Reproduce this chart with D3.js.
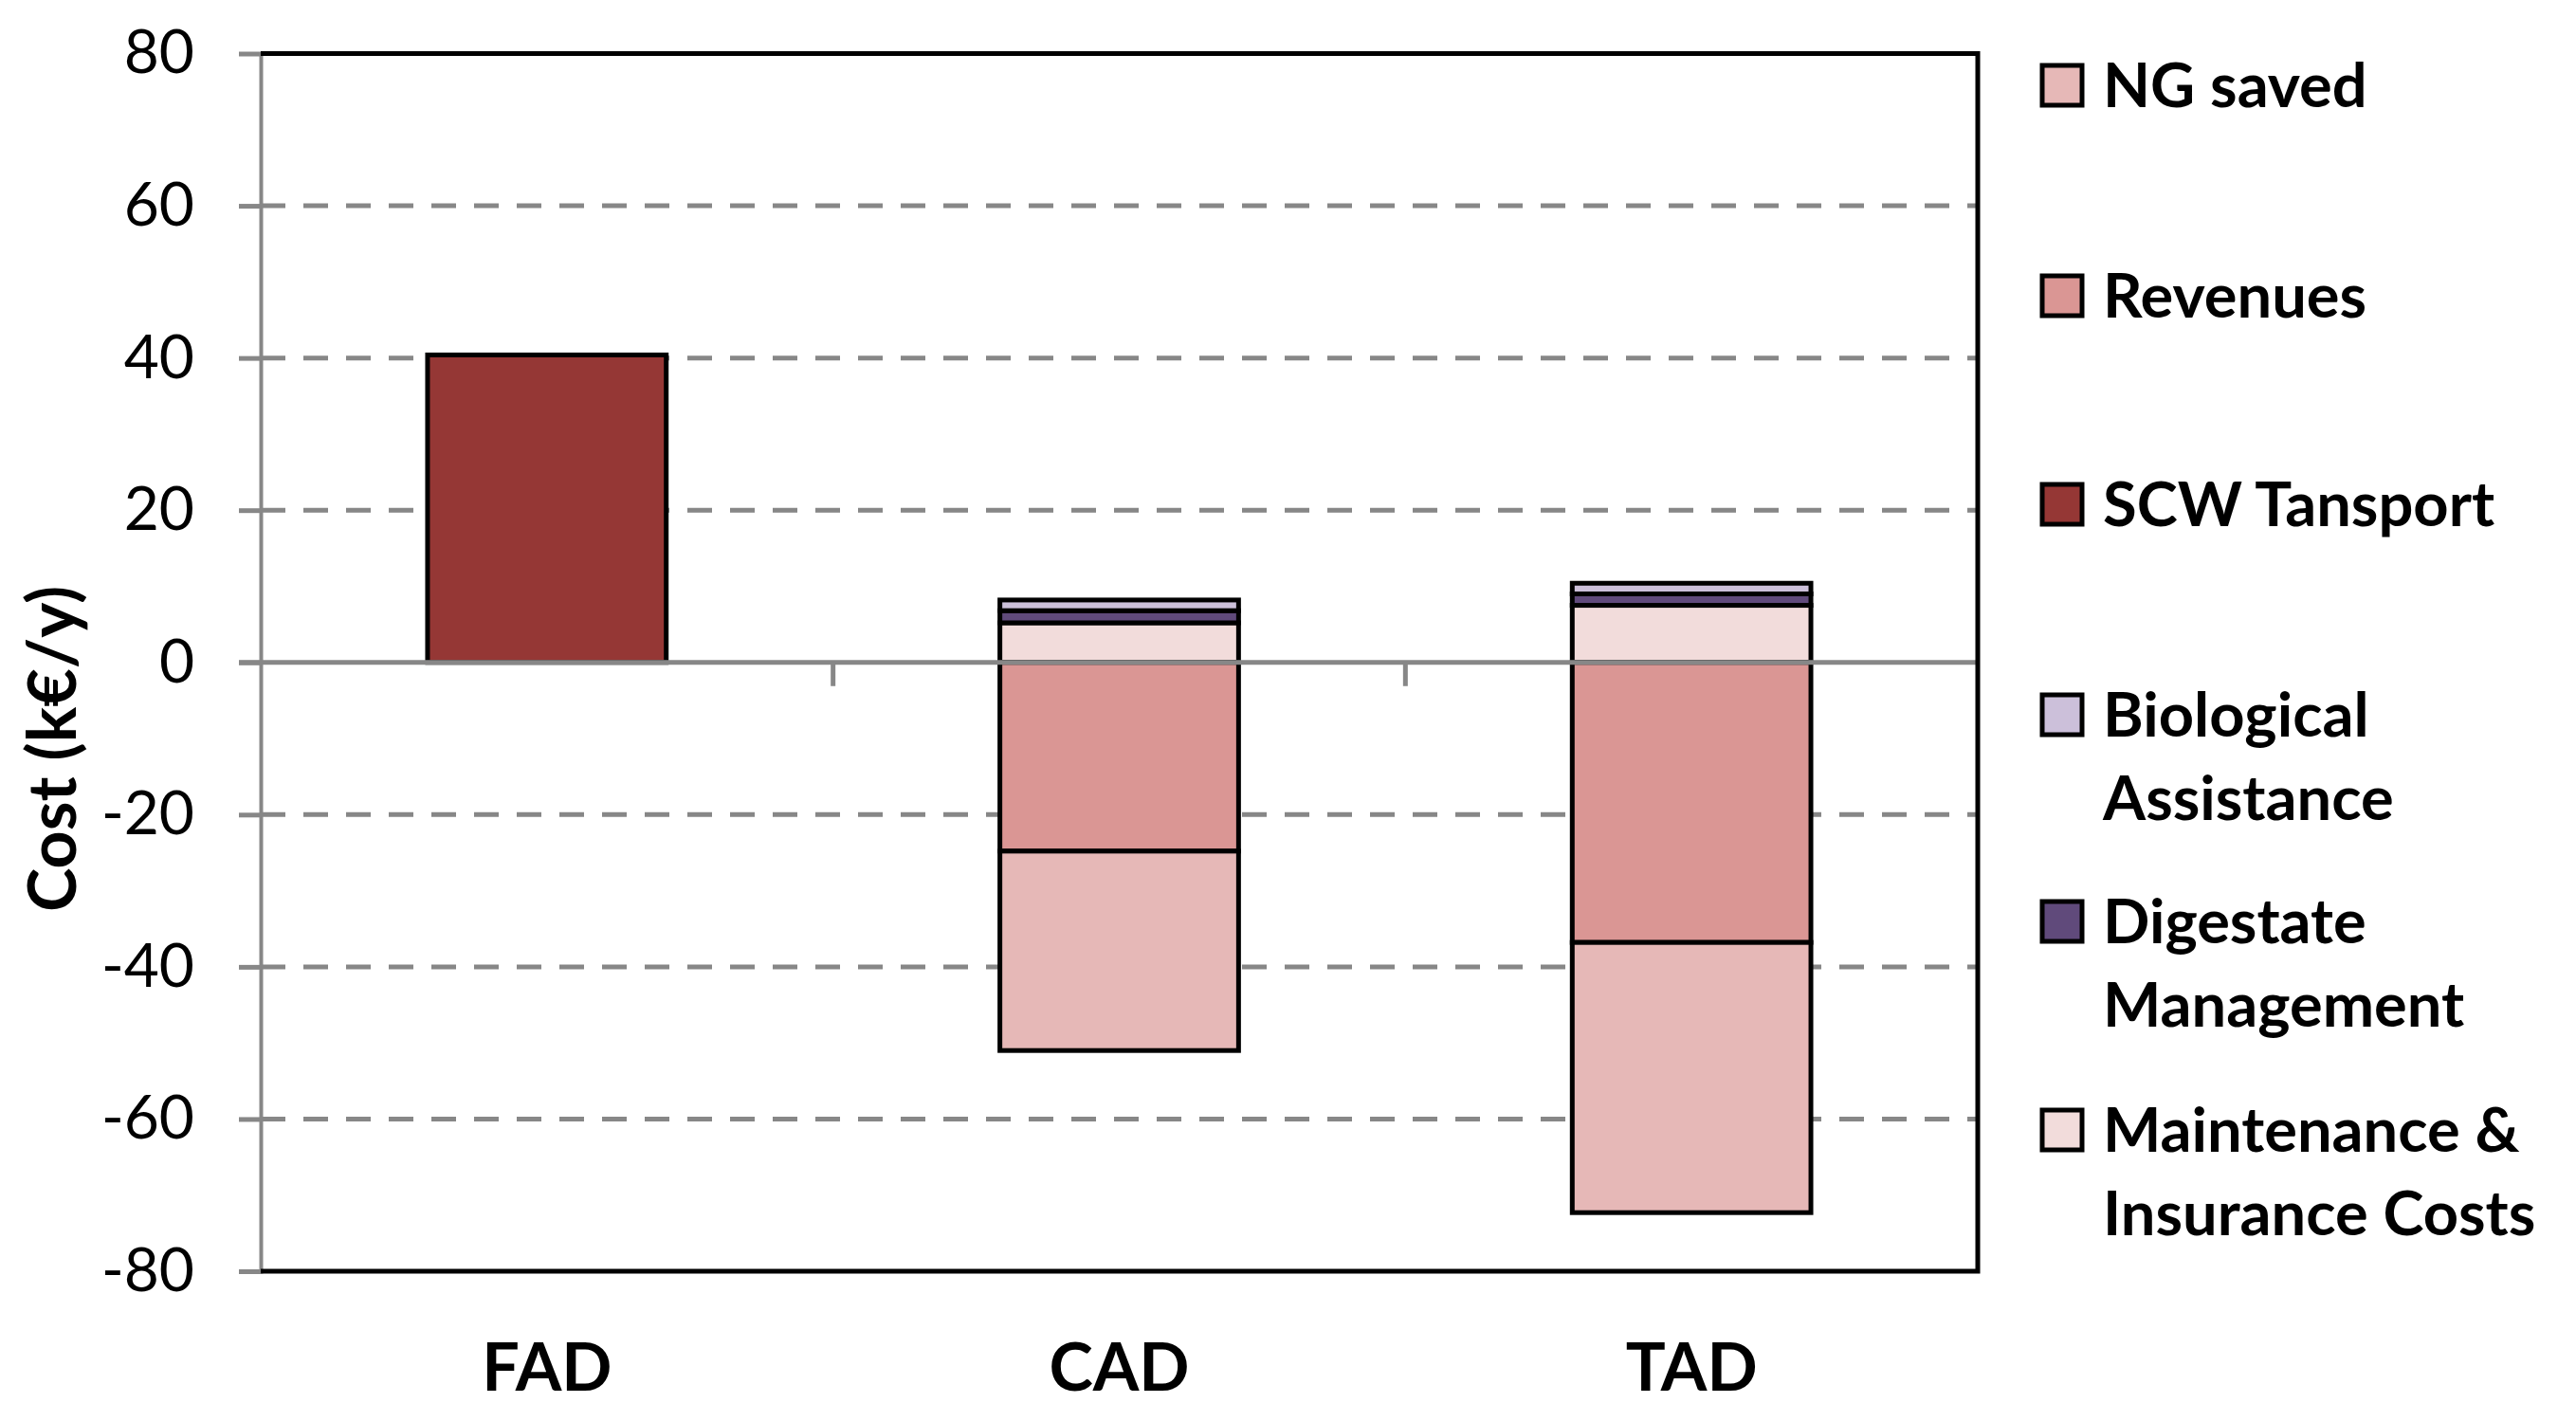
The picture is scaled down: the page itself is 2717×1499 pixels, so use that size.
<!DOCTYPE html>
<html>
<head>
<meta charset="utf-8">
<script src="https://cdn.jsdelivr.net/npm/d3@7"></script>
<style>
  html, body { margin: 0; padding: 0; background: #fff; }
  svg { display: block; }
  text { font-family: Lato, "Open Sans", sans-serif; fill: #000; }
</style>
</head>
<body>
<svg id="chart" width="2717" height="1499"></svg>
<script>
// ---- data ----
const categories = ["FAD", "CAD", "TAD"];
const seriesNames = ["Maintenance & Insurance Costs", "Digestate Management", "Biological Assistance", "SCW Tansport", "Revenues", "NG saved"];
const maintenance = [0, 5.2, 7.5];
const digestate = [0, 1.6, 1.5];
const biological = [0, 1.4, 1.4];
const scwTransport = [40.4, 0, 0];
const revenues = [0, -24.8, -36.8];
const ngSaved = [0, -26.2, -35.5];
const yTicks = [80, 60, 40, 20, 0, -20, -40, -60, -80];
const legendOrder = ["NG saved", "Revenues", "SCW Tansport", "Biological Assistance", "Digestate Management", "Maintenance & Insurance Costs"];
const legendLines = {
  "NG saved": ["NG saved"],
  "Revenues": ["Revenues"],
  "SCW Tansport": ["SCW Tansport"],
  "Biological Assistance": ["Biological", "Assistance"],
  "Digestate Management": ["Digestate", "Management"],
  "Maintenance & Insurance Costs": ["Maintenance &", "Insurance Costs"]
};
const colors = {
  "Maintenance & Insurance Costs": "#F2DCDB",
  "Digestate Management": "#604A7B",
  "Biological Assistance": "#CCC0DA",
  "SCW Tansport": "#953735",
  "Revenues": "#DA9694",
  "NG saved": "#E6B8B7"
};
const seriesValues = [maintenance, digestate, biological, scwTransport, revenues, ngSaved];

const table = categories.map((c, i) => {
  const row = { cat: c };
  seriesNames.forEach((s, j) => row[s] = seriesValues[j][i]);
  return row;
});

// ---- layout ----
const svg = d3.select("#chart");
const plotLeft = 275, plotRight = 2086, plotTop = 56.5, plotBottom = 1341;

const x = d3.scaleBand().domain(categories).range([plotLeft, plotRight]).padding(0);
const y = d3.scaleLinear().domain([-80, 80]).range([plotBottom, plotTop]);
const barW = x.bandwidth() * 0.417;

const gridColor = "#878787";

// gridlines (dashed)
svg.append("g").selectAll("line")
  .data(yTicks.filter(t => t !== 0 && t !== 80 && t !== -80))
  .join("line")
  .attr("x1", plotLeft).attr("x2", plotRight)
  .attr("y1", d => y(d)).attr("y2", d => y(d))
  .attr("stroke", gridColor).attr("stroke-width", 5)
  .attr("stroke-dasharray", "26 19");

// y axis
const yAxis = d3.axisLeft(y).tickValues(yTicks).tickSize(23).tickPadding(47).tickFormat(d => String(d));
const gy = svg.append("g").attr("transform", `translate(${plotLeft},0)`).call(yAxis);
gy.select(".domain").attr("stroke", gridColor).attr("stroke-width", 4);
gy.selectAll(".tick line").attr("stroke", gridColor).attr("stroke-width", 5);
gy.selectAll(".tick text")
  .style("font-family", "Lato, sans-serif")
  .style("font-size", "64px")
  .attr("fill", "#000");

// stacked bars
const stack = d3.stack().keys(seriesNames).offset(d3.stackOffsetDiverging);
const stacked = stack(table);

const barsG = svg.append("g");
stacked.forEach(layer => {
  barsG.append("g")
    .selectAll("rect")
    .data(layer.filter(d => d[1] - d[0] !== 0))
    .join("rect")
    .attr("x", d => x(d.data.cat) + (x.bandwidth() - barW) / 2)
    .attr("width", barW)
    .attr("y", d => y(Math.max(d[0], d[1])))
    .attr("height", d => Math.abs(y(d[0]) - y(d[1])))
    .attr("fill", colors[layer.key])
    .attr("stroke", "#000")
    .attr("stroke-width", 5);
});

// zero line (horizontal axis)
svg.append("line")
  .attr("x1", plotLeft - 23).attr("x2", plotRight)
  .attr("y1", y(0)).attr("y2", y(0))
  .attr("stroke", gridColor).attr("stroke-width", 5);

// x ticks at category boundaries
const boundaries = categories.slice(1).map(c => x(c));
svg.append("g").selectAll("line")
  .data(boundaries)
  .join("line")
  .attr("x1", d => d).attr("x2", d => d)
  .attr("y1", y(0)).attr("y2", y(0) + 25)
  .attr("stroke", gridColor).attr("stroke-width", 5);

// plot border (top, right, bottom in black)
svg.append("path")
  .attr("d", `M${plotLeft},${plotTop}H${plotRight}V${plotBottom}H${plotLeft}`)
  .attr("fill", "none").attr("stroke", "#000").attr("stroke-width", 5);

// category labels
svg.append("g").selectAll("text")
  .data(categories)
  .join("text")
  .attr("x", d => x(d) + x.bandwidth() / 2)
  .attr("y", 1467)
  .attr("text-anchor", "middle")
  .style("font-size", "70px")
  .style("font-weight", "700")
  .text(d => d);

// y axis title
svg.append("text")
  .attr("transform", `translate(80,790) rotate(-90)`)
  .attr("text-anchor", "middle")
  .style("font-size", "70px")
  .style("font-weight", "700")
  .text("Cost (k€/y)");

// legend
const legendY = [90, 312, 532, 754, 972, 1192];
const lg = svg.append("g");
legendOrder.forEach((name, i) => {
  const cy = legendY[i];
  lg.append("rect")
    .attr("x", 2154).attr("y", cy - 21)
    .attr("width", 42).attr("height", 42)
    .attr("fill", colors[name])
    .attr("stroke", "#000").attr("stroke-width", 5);
  legendLines[name].forEach((ln, k) => {
    lg.append("text")
      .attr("x", 2218).attr("y", cy + k * 88)
      .attr("dy", "0.36em")
      .style("font-size", "65px")
      .style("font-weight", "700")
      .text(ln);
  });
});
</script>
</body>
</html>
